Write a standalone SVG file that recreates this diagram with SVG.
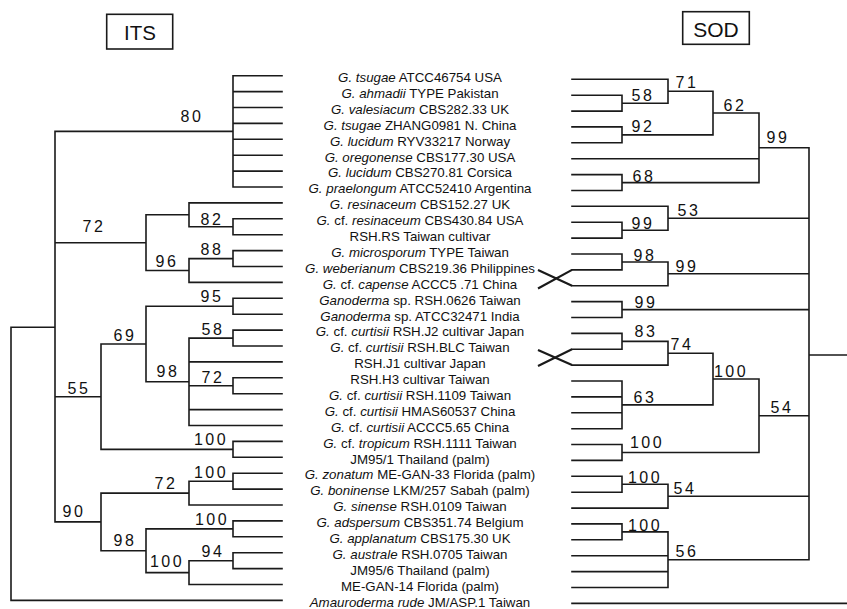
<svg xmlns="http://www.w3.org/2000/svg" width="847" height="609" viewBox="0 0 847 609">
<style>
.br{fill:none;stroke:#1a1a1a;stroke-width:1.6;stroke-linecap:square}
.x{fill:none;stroke:#1a1a1a;stroke-width:2.2}
.box{fill:#fff;stroke:#1a1a1a;stroke-width:1.6}
.ttl{font-family:"Liberation Sans",Arial,sans-serif;fill:#111;text-anchor:middle}
.lf{font-family:"Liberation Sans",Arial,sans-serif;font-size:13.3px;fill:#111;text-anchor:middle}
.i{font-style:italic}
.bs{font-family:"Liberation Sans",Arial,sans-serif;font-size:16px;letter-spacing:2.5px;fill:#111;text-anchor:middle}
</style>
<rect width="847" height="609" fill="#fff"/>
<g id="title-its"><rect class="box" x="106.7" y="14.3" width="66" height="34.7"/><text class="ttl" x="140" y="39.5" font-size="20.5">ITS</text></g>
<g id="title-sod"><rect class="box" x="682.7" y="11.7" width="66.6" height="32.6"/><text class="ttl" x="716" y="36.5" font-size="21">SOD</text></g>
<g id="connectors">
<path id="its-tree" class="br" d="M233 75.7H282M233 91.6H282M233 107.5H282M233 123.4H282M233 139.3H282M233 155.2H282M233 171.1H282M233 187H282M233 75.7V187M55 131.4H233
M189 202.9H282M233 218.8H282M233 234.7H282M233 218.8V234.7M189 226.8H233M189 202.9V226.8M146 214.8H189
M233 250.6H282M233 266.5H282M233 250.6V266.5M189 258.6H233M189 282.4H282M189 258.6V282.4M146 270.5H189
M146 214.8V270.5M55 242.7H146
M233 298.3H282M233 314.2H282M233 298.3V314.2M146 306.3H233
M233 330.1H282M233 346H282M233 330.1V346M189 338.1H233M189 361.9H282
M233 377.8H282M233 393.7H282M233 377.8V393.7M189 385.8H233
M189 409.6H282M189 425.5H282M189 338.1V425.5M146 381.8H189
M146 306.3V381.8M101 344H146
M233 441.4H282M233 457.3H282M233 441.4V457.3M101 449.4H233
M101 344V449.4M55 396.7H101
M233 473.2H282M233 489.1H282M233 473.2V489.1M189 481.2H233M189 505H282M189 481.2V505M101 493.1H189
M233 520.9H282M233 536.8H282M233 520.9V536.8M146 528.9H233
M233 552.7H282M233 568.6H282M233 552.7V568.6M189 560.7H233M189 584.5H282M189 560.7V584.5M146 572.6H189
M146 528.9V572.6M101 550.7H146
M101 493.1V550.7M55 521.9H101
M55 131.4V521.9M11 327.3H55M11 327.3V600.4H282"/>
<path id="sod-tree" class="br" d="M572 79.3H668M572 95.2H622M572 111.1H622M622 95.2V111.1M622 103.2H668M668 79.3V103.2M668 91.2H713
M572 126.9H622M572 142.8H622M622 126.9V142.8M622 134.9H713M713 91.2V134.9M713 113H759
M572 158.7H759
M572 174.6H622M572 190.5H622M622 174.6V190.5M622 182.6H759
M759 113V182.6M759 147.8H809
M572 206.3H668M572 222.2H622M572 238.1H622M622 222.2V238.1M622 230.2H668M668 206.3V230.2M668 218.2H809
M572 254H622M572 269.9H622M622 254V269.9M622 262H668M572 285.7H668M668 262V285.7M668 273.8H809
M572 301.6H622M572 317.5H622M622 301.6V317.5M622 309.6H809
M572 333.4H622M572 349.3H622M622 333.4V349.3M622 341.4H668M572 365.1H668M668 341.4V365.1M668 353.2H713
M572 381H622M572 396.9H622M572 412.8H622M572 428.7H622M622 381V428.7M622 404.9H713
M713 353.2V404.9M713 379H759
M572 444.5H622M572 460.4H622M622 444.5V460.4M622 452.5H759
M759 379V452.5M759 415.7H809
M572 476.3H622M572 492.2H622M622 476.3V492.2M622 484.3H668M572 508.1H668M668 484.3V508.1M668 496.2H809
M572 523.9H622M572 539.8H622M622 523.9V539.8M622 531.9H668M572 555.7H668M572 571.6H668M572 587.5H668M668 531.9V587.5M668 559.7H809
M809 147.8V559.7M809 355H847
M572 603.4H847"/>
<path id="crosses" class="x" d="M538 270L572 285.7M538 288.5L572 269.9M538 350L572 365.1M538 366L572 349.3"/>
</g>
<g id="its-support" class="bs">
<text x="192" y="121.5">80</text>
<text x="212" y="224.5">82</text>
<text x="94" y="231.5">72</text>
<text x="212" y="254.5">88</text>
<text x="167" y="266.5">96</text>
<text x="212" y="301.5">95</text>
<text x="125" y="340.5">69</text>
<text x="213" y="334.5">58</text>
<text x="168" y="377">98</text>
<text x="213" y="382.5">72</text>
<text x="79" y="393.5">55</text>
<text x="211" y="445">100</text>
<text x="211" y="477.5">100</text>
<text x="166" y="489">72</text>
<text x="74" y="516.5">90</text>
<text x="212" y="524.5">100</text>
<text x="125" y="546">98</text>
<text x="213" y="556.5">94</text>
<text x="167" y="567">100</text>
</g>
<g id="sod-support" class="bs">
<text x="687" y="87.5">71</text>
<text x="643" y="100.5">58</text>
<text x="643" y="131.5">92</text>
<text x="735" y="110.5">62</text>
<text x="644" y="181.5">68</text>
<text x="778" y="143">99</text>
<text x="689" y="216">53</text>
<text x="643" y="229">99</text>
<text x="645" y="260.5">98</text>
<text x="687" y="272">99</text>
<text x="646" y="308">99</text>
<text x="646" y="336.5">83</text>
<text x="682" y="350">74</text>
<text x="731" y="376.5">100</text>
<text x="645" y="403">63</text>
<text x="782" y="413">54</text>
<text x="647" y="448">100</text>
<text x="645" y="482.5">100</text>
<text x="685" y="494">54</text>
<text x="645" y="530.5">100</text>
<text x="687" y="556.5">56</text>
</g>
<g id="taxa" class="lf">
<g id="t01"><text x="420" y="82.1"><tspan class="i">G. tsugae</tspan> ATCC46754 USA</text></g>
<g id="t02"><text x="420" y="98"><tspan class="i">G. ahmadii</tspan> TYPE Pakistan</text></g>
<g id="t03"><text x="420" y="113.9"><tspan class="i">G. valesiacum</tspan> CBS282.33 UK</text></g>
<g id="t04"><text x="420" y="129.8"><tspan class="i">G. tsugae</tspan> ZHANG0981 N. China</text></g>
<g id="t05"><text x="420" y="145.7"><tspan class="i">G. lucidum</tspan> RYV33217 Norway</text></g>
<g id="t06"><text x="420" y="161.6"><tspan class="i">G. oregonense</tspan> CBS177.30 USA</text></g>
<g id="t07"><text x="420" y="177.4"><tspan class="i">G. lucidum</tspan> CBS270.81 Corsica</text></g>
<g id="t08"><text x="420" y="193.3"><tspan class="i">G. praelongum</tspan> ATCC52410 Argentina</text></g>
<g id="t09"><text x="420" y="209.2"><tspan class="i">G. resinaceum</tspan> CBS152.27 UK</text></g>
<g id="t10"><text x="420" y="225.1"><tspan class="i">G.</tspan> cf. <tspan class="i">resinaceum</tspan> CBS430.84 USA</text></g>
<g id="t11"><text x="420" y="241">RSH.RS Taiwan cultivar</text></g>
<g id="t12"><text x="420" y="256.9"><tspan class="i">G. microsporum</tspan> TYPE Taiwan</text></g>
<g id="t13"><text x="420" y="272.8"><tspan class="i">G. weberianum</tspan> CBS219.36 Philippines</text></g>
<g id="t14"><text x="420" y="288.7"><tspan class="i">G.</tspan> cf. <tspan class="i">capense</tspan> ACCC5 .71 China</text></g>
<g id="t15"><text x="420" y="304.6"><tspan class="i">Ganoderma</tspan> sp. RSH.0626 Taiwan</text></g>
<g id="t16"><text x="420" y="320.5"><tspan class="i">Ganoderma</tspan> sp. ATCC32471 India</text></g>
<g id="t17"><text x="420" y="336.3"><tspan class="i">G.</tspan> cf. <tspan class="i">curtisii</tspan> RSH.J2 cultivar Japan</text></g>
<g id="t18"><text x="420" y="352.2"><tspan class="i">G.</tspan> cf. <tspan class="i">curtisii</tspan> RSH.BLC Taiwan</text></g>
<g id="t19"><text x="420" y="368.1">RSH.J1 cultivar Japan</text></g>
<g id="t20"><text x="420" y="384">RSH.H3 cultivar Taiwan</text></g>
<g id="t21"><text x="420" y="399.9"><tspan class="i">G.</tspan> cf. <tspan class="i">curtisii</tspan> RSH.1109 Taiwan</text></g>
<g id="t22"><text x="420" y="415.8"><tspan class="i">G.</tspan> cf. <tspan class="i">curtisii</tspan> HMAS60537 China</text></g>
<g id="t23"><text x="420" y="431.7"><tspan class="i">G.</tspan> cf. <tspan class="i">curtisii</tspan> ACCC5.65 China</text></g>
<g id="t24"><text x="420" y="447.6"><tspan class="i">G.</tspan> cf. <tspan class="i">tropicum</tspan> RSH.1111 Taiwan</text></g>
<g id="t25"><text x="420" y="463.5">JM95/1 Thailand (palm)</text></g>
<g id="t26"><text x="420" y="479.4"><tspan class="i">G. zonatum</tspan> ME-GAN-33 Florida (palm)</text></g>
<g id="t27"><text x="420" y="495.2"><tspan class="i">G. boninense</tspan> LKM/257 Sabah (palm)</text></g>
<g id="t28"><text x="420" y="511.1"><tspan class="i">G. sinense</tspan> RSH.0109 Taiwan</text></g>
<g id="t29"><text x="420" y="527"><tspan class="i">G. adspersum</tspan> CBS351.74 Belgium</text></g>
<g id="t30"><text x="420" y="542.9"><tspan class="i">G. applanatum</tspan> CBS175.30 UK</text></g>
<g id="t31"><text x="420" y="558.8"><tspan class="i">G. australe</tspan> RSH.0705 Taiwan</text></g>
<g id="t32"><text x="420" y="574.7">JM95/6 Thailand (palm)</text></g>
<g id="t33"><text x="420" y="590.6">ME-GAN-14 Florida (palm)</text></g>
<g id="t34"><text x="420" y="606.5"><tspan class="i">Amauroderma rude</tspan> JM/ASP.1 Taiwan</text></g>
</g>
</svg>
